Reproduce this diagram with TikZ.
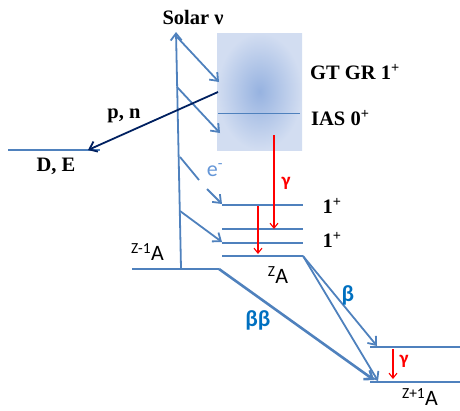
\documentclass[tikz,border=0pt]{standalone}
\usepackage{fontspec}
\setmainfont{Liberation Serif}
\newfontfamily\calib{Carlito}
\usetikzlibrary{arrows.meta}
\definecolor{lineblue}{RGB}{79,129,189}
\definecolor{navyblue}{RGB}{0,32,96}
\definecolor{textblue}{RGB}{0,112,192}
\definecolor{eblue}{RGB}{100,150,215}
\definecolor{boxin}{RGB}{150,178,224}
\definecolor{boxout}{RGB}{210,221,241}
\tikzset{
  lvl/.style={draw=lineblue, line width=2.2pt},
  barrow/.style={draw=lineblue, line width=1.8pt, -{Straight Barb[length=7pt,width=11pt]}},
  rarrow/.style={draw=red, line width=1.1pt, -{Straight Barb[length=5pt,width=8pt]}},
  blbl/.style={font=\bfseries\fontsize{20.5}{20.5}\selectfont, inner sep=0pt},
  slbl/.style={font=\calib\fontsize{22}{22}\selectfont, inner sep=0pt},
  glbl/.style={font=\calib\bfseries\fontsize{19}{19}\selectfont, text=red, inner sep=0pt},
  btxt/.style={font=\calib\bfseries\fontsize{23}{23}\selectfont, text=textblue, inner sep=0pt},
}
\begin{document}
\begin{tikzpicture}[x=1pt,y=-1pt]
\useasboundingbox (0,0) rectangle (460,410);
% shaded box
\shade[inner color=boxin, outer color=boxout] (217,33) rectangle (302,150);
\coordinate (iasL) at (218,113); \coordinate (iasR) at (300,113);
\draw[draw=lineblue, line width=0.6pt] (iasL) -- (iasR);
% main vertical
\coordinate (vbot) at (181,268); \coordinate (vtop) at (176,32);
\draw[barrow] (vbot) -- (vtop);
\node[blbl] (solar) at (193,17) {Solar ν};
% diagonal arrows
\coordinate (a1s) at (177,37); \coordinate (a1e) at (219,82);
\coordinate (a2s) at (177,87); \coordinate (a2e) at (220,133);
\coordinate (a3s) at (180,157); \coordinate (a3m) at (199,180);
\coordinate (a3n) at (207,189); \coordinate (a3e) at (222,204);
\coordinate (a4s) at (180,211); \coordinate (a4e) at (222,242);
\draw[barrow] (a1s) -- (a1e);
\draw[barrow] (a2s) -- (a2e);
\draw[draw=lineblue, line width=1.8pt] (a3s) -- (a3m);
\draw[barrow] (a3n) -- (a3e);
\draw[barrow] (a4s) -- (a4e);
\node[slbl, text=eblue] (elbl) at (215,170) {e\textsuperscript{-}};
% p, n
\coordinate (pns) at (218,92); \coordinate (pne) at (88,150);
\coordinate (deL) at (8,150); \coordinate (deR) at (100,150);
\draw[lvl, line width=2pt] (deL) -- (deR);
\draw[draw=navyblue, line width=1.8pt, -{Straight Barb[length=7pt,width=11pt]}] (pns) -- (pne);
\node[blbl] (pn) at (124,116) {p, n};
\node[blbl] (de) at (56,166) {D, E};
\node[blbl, anchor=west] (gt) at (310,72) {GT GR 1\textsuperscript{+}};
\node[blbl, anchor=west] (ias) at (311,118) {IAS 0\textsuperscript{+}};
% Z A levels
\coordinate (l1L) at (222,205); \coordinate (l1R) at (303,205);
\coordinate (l2L) at (222,229); \coordinate (l2R) at (303,229);
\coordinate (l3L) at (222,243); \coordinate (l3R) at (303,243);
\coordinate (l4L) at (222,256); \coordinate (l4R) at (303,256);
\draw[lvl] (l1L) -- (l1R);
\draw[lvl] (l2L) -- (l2R);
\draw[lvl] (l3L) -- (l3R);
\draw[lvl] (l4L) -- (l4R);
\node[blbl] (s1) at (332,206) {1\textsuperscript{+}};
\node[blbl] (s2) at (332,240) {1\textsuperscript{+}};
% red gammas
\coordinate (g1s) at (274,135); \coordinate (g1e) at (274,229);
\draw[rarrow] (g1s) -- (g1e);
\node[glbl] (g1) at (286,183) {γ};
\coordinate (g2s) at (258,206); \coordinate (g2e) at (258,254);
\draw[rarrow] (g2s) -- (g2e);
% Z-1 A
\coordinate (zmL) at (132,269); \coordinate (zmR) at (219,269);
\draw[lvl] (zmL) -- (zmR);
\node[slbl, anchor=south west] (zm) at (131,261) {\textsuperscript{Z-1}A};
\node[slbl] (za) at (278,275) {\textsuperscript{Z}A};
% Z+1 A
\coordinate (zp1L) at (370,347); \coordinate (zp1R) at (460,347);
\coordinate (zp0L) at (370,382); \coordinate (zp0R) at (460,382);
\draw[lvl] (zp1L) -- (zp1R);
\draw[lvl] (zp0L) -- (zp0R);
\node[slbl] (zp) at (420,397) {\textsuperscript{Z+1}A};
% beta decays
\coordinate (bbe) at (374,380); \coordinate (b1e) at (377,346); \coordinate (b2e) at (378,381);
\draw[draw=lineblue, line width=2.6pt, -{Straight Barb[length=7pt,width=11pt]}] (zmR) -- (bbe);
\draw[barrow] (l4R) -- (b1e);
\draw[barrow] (l4R) -- (b2e);
\node[btxt] (bb) at (258,320) {ββ};
\node[btxt] (b) at (348,295) {β};
% gamma Z+1
\coordinate (g3s) at (393,349); \coordinate (g3e) at (393,379);
\draw[rarrow] (g3s) -- (g3e);
\node[glbl] (g3) at (404,361) {γ};
\end{tikzpicture}
\end{document}
